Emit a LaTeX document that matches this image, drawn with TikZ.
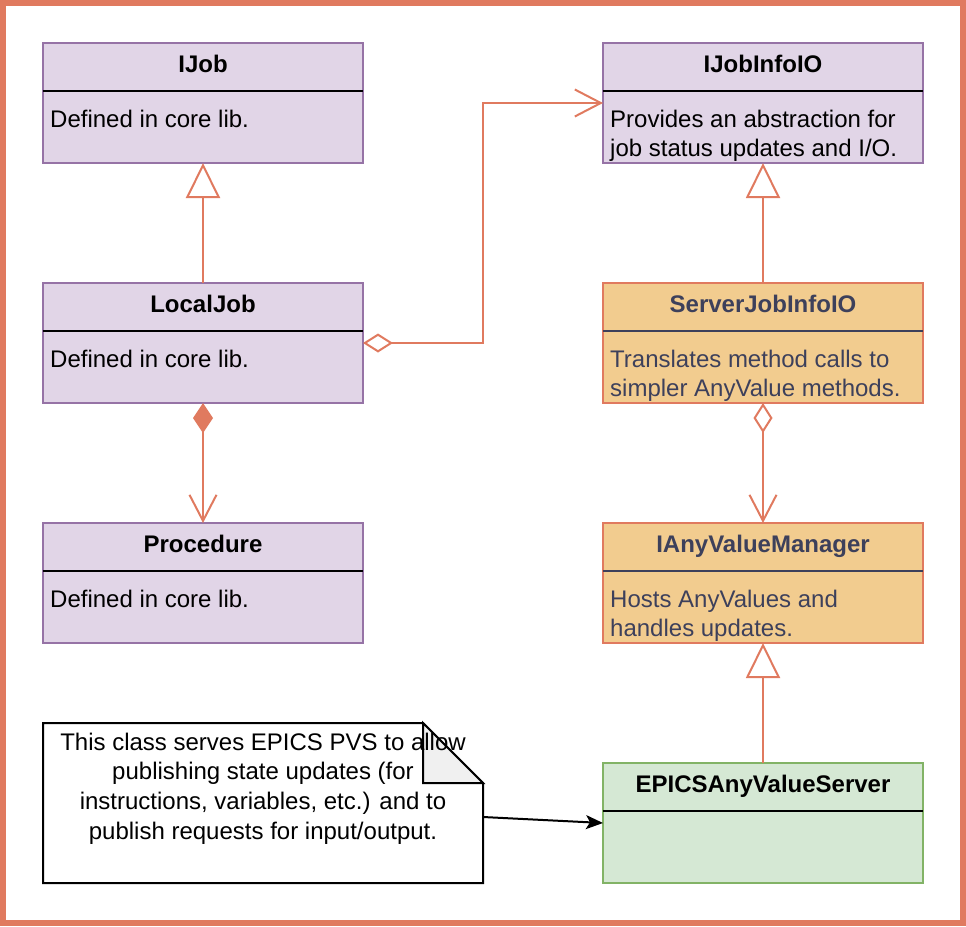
\documentclass[tikz,border=0pt]{standalone}
\usepackage{fontspec}
\setmainfont{Liberation Sans}
\usetikzlibrary{arrows.meta}
\definecolor{accent}{HTML}{E07A5F}
\definecolor{purpfill}{HTML}{E1D5E7}
\definecolor{purpline}{HTML}{9673A6}
\definecolor{orfill}{HTML}{F2CC8F}
\definecolor{ortext}{HTML}{3D405B}
\definecolor{grfill}{HTML}{D5E8D4}
\definecolor{grline}{HTML}{82B366}
\definecolor{foldfill}{HTML}{F0F0F0}
\tikzset{
  classbox/.style={rectangle, minimum width=320pt, minimum height=120pt, inner sep=0pt, outer sep=0pt, line width=2pt},
  purplebox/.style={classbox, fill=purpfill, draw=purpline},
  orangebox/.style={classbox, fill=orfill, draw=accent},
  greenbox/.style={classbox, fill=grfill, draw=grline},
  titletext/.style={anchor=base, inner sep=0pt, font=\fontsize{24}{29.5}\selectfont\bfseries},
  bodytext/.style={anchor=north west, inner sep=0pt, align=left, font=\fontsize{24}{29.5}\selectfont},
  divider/.style={line width=2pt},
  conn/.style={draw=accent, line width=2pt},
  genarrow/.style={conn, -{Triangle[length=35pt,width=34pt,fill=white]}},
  openhead/.style={conn, -{Straight Barb[length=26pt,width=27pt]}},
  aggarrow/.style={conn, {Diamond[length=30pt,width=19pt,fill=white]}-{Straight Barb[length=26pt,width=27pt]}},
  comparrow/.style={conn, {Diamond[length=30pt,width=20pt]}-{Straight Barb[length=26pt,width=27pt]}},
  notearrow/.style={draw=black, line width=2pt, -{Stealth[length=17pt,width=14pt,inset=4pt]}},
}
\begin{document}
\begin{tikzpicture}[x=1pt,y=-1pt]
\useasboundingbox (0,0) rectangle (966,926);
\draw[accent, line width=6pt] (3,3) rectangle (963,923);

% left column
\node[purplebox] (ijob) at (203,103) {};
\draw[divider] (43,91) -- (363,91);
\node[titletext] (ijobT) at (203,72) {IJob};
\node[bodytext] (ijobB) at (50,106.35) {\strut Defined in core lib.};

\node[purplebox] (localjob) at (203,343) {};
\draw[divider] (43,331) -- (363,331);
\node[titletext] (localjobT) at (203,312) {LocalJob};
\node[bodytext] (localjobB) at (50,346.35) {\strut Defined in core lib.};

\node[purplebox] (procedure) at (203,583) {};
\draw[divider] (43,571) -- (363,571);
\node[titletext] (procedureT) at (203,552) {Procedure};
\node[bodytext] (procedureB) at (50,586.35) {\strut Defined in core lib.};

% right column
\node[purplebox] (ijobinfo) at (763,103) {};
\draw[divider] (603,91) -- (923,91);
\node[titletext] (ijobinfoT) at (763,72) {IJobInfoIO};
\node[bodytext] (ijobinfoB) at (610,106.35) {\strut Provides an abstraction for\\job status updates and I/O.};

\node[orangebox] (server) at (763,343) {};
\draw[divider, ortext] (603,331) -- (923,331);
\node[titletext, text=ortext] (serverT) at (763,312) {ServerJobInfoIO};
\node[bodytext, text=ortext] (serverB) at (610,346.35) {\strut Translates method calls to\\simpler AnyValue methods.};

\node[orangebox] (anyvm) at (763,583) {};
\draw[divider, ortext] (603,571) -- (923,571);
\node[titletext, text=ortext] (anyvmT) at (763,552) {IAnyValueManager};
\node[bodytext, text=ortext] (anyvmB) at (610,586.35) {\strut Hosts AnyValues and\\handles updates.};

\node[greenbox] (epics) at (763,823) {};
\draw[divider] (603,811) -- (923,811);
\node[titletext] (epicsT) at (763,792) {EPICSAnyValueServer};

% note
\draw[line width=2pt, fill=white, line join=miter] (43,723) -- (423,723) -- (483,783) -- (483,883) -- (43,883) -- cycle;
\draw[line width=2pt, fill=foldfill, line join=miter] (423,723) -- (423,783) -- (483,783) -- cycle;
\node[anchor=north, inner sep=0pt, align=center, font=\fontsize{24}{29.7}\selectfont] (note) at (263,729.2)
  {\strut This class serves EPICS PVS to allow\\publishing state updates (for\\instructions, variables, etc.) and to\\publish requests for input/output.};
\coordinate (noteE) at (483,817);

% connectors
\draw[genarrow] (localjob.north) -- (ijob.south);
\draw[aggarrow] (localjob.east) -- ++(120,0) |- (ijobinfo.west);
\draw[comparrow] (localjob.south) -- (procedure.north);
\draw[genarrow] (server.north) -- (ijobinfo.south);
\draw[aggarrow] (server.south) -- (anyvm.north);
\draw[genarrow] (epics.north) -- (anyvm.south);
\draw[notearrow] (noteE) -- (epics.west);
\end{tikzpicture}
\end{document}
